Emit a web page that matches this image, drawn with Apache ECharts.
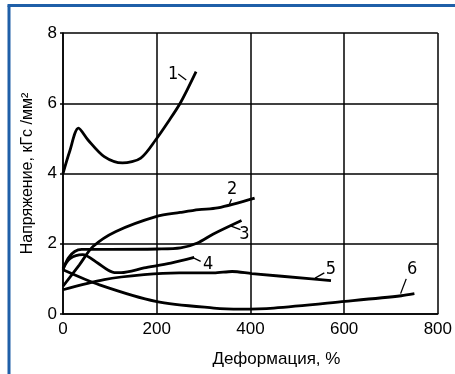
<!DOCTYPE html>
<html>
<head>
<meta charset="utf-8">
<script src="https://cdn.jsdelivr.net/npm/echarts@6/dist/echarts.min.js"></script>
<style>
  html, body { margin: 0; padding: 0; background: #fff; }
  #chart { width: 455px; height: 374px; }
</style>
</head>
<body>
<div id="chart"></div>
<script>
// curves: [deformation %, stress kgf/mm2]
const curve1 = [[0, 4.0], [14, 4.62], [33, 5.29], [53, 4.96], [88, 4.48], [127, 4.30], [166, 4.44], [198, 4.96], [225, 5.48], [251, 6.02], [284, 6.9]];
const curve2 = [[0, 0.79], [35, 1.40], [64, 1.92], [113, 2.35], [200, 2.78], [250, 2.89], [290, 2.97], [330, 3.02], [409, 3.30]];
const curve3 = [[0, 1.26], [11, 1.59], [25, 1.78], [40, 1.84], [100, 1.84], [201, 1.85], [251, 1.88], [287, 2.02], [320, 2.27], [381, 2.66]];
const curve4 = [[0, 1.3], [15, 1.58], [42, 1.69], [74, 1.45], [95, 1.26], [110, 1.18], [124, 1.18], [173, 1.31], [230, 1.45], [280, 1.61]];
const curve5 = [[0, 0.69], [88, 0.98], [173, 1.12], [248, 1.17], [322, 1.17], [361, 1.21], [403, 1.15], [531, 1.0], [572, 0.95]];
const curve6 = [[0, 1.26], [78, 0.83], [198, 0.36], [322, 0.17], [380, 0.14], [450, 0.17], [602, 0.36], [722, 0.52], [750, 0.58]];
const curves = [curve1, curve2, curve3, curve4, curve5, curve6];

// curve number labels and their leader lines, in data coords
const labelNames = ['1', '2', '3', '4', '5', '6'];
const labelPos = [[235, 6.81], [361, 3.54], [387, 2.26], [310, 1.40], [572, 1.26], [745, 1.26]];
const leaders = [
  [[246, 6.83], [263, 6.66]],
  [[359.6, 3.27], [355.4, 3.13]],
  [[378.7, 2.40], [357.5, 2.51]],
  [[293.8, 1.50], [279.6, 1.59]],
  [[557.7, 1.17], [538, 1.02]],
  [[732.5, 1.0], [720.6, 0.58]]
];

const xTicks = [0, 200, 400, 600, 800];
const yTicks = [0, 2, 4, 6, 8];

const chart = echarts.init(document.getElementById('chart'), null, { renderer: 'canvas' });

const font = '"Liberation Sans", Arial, sans-serif';

const series = [];
curves.forEach((c, i) => {
  series.push({
    name: 'curve' + (i + 1),
    type: 'line',
    data: c,
    smooth: 0.3,
    showSymbol: false,
    lineStyle: { color: '#000', width: 2.8 },
    z: 3,
    silent: true
  });
});
leaders.forEach((seg, i) => {
  series.push({
    name: 'leader' + (i + 1),
    type: 'line',
    data: seg,
    showSymbol: false,
    lineStyle: { color: '#000', width: 1.3 },
    z: 3,
    silent: true
  });
});
series.push({
  name: 'labels',
  type: 'scatter',
  data: labelPos.map((p, i) => ({ value: p, name: labelNames[i] })),
  symbolSize: 1,
  itemStyle: { opacity: 1, color: 'rgba(0,0,0,0)' },
  label: {
    show: true,
    position: 'inside',
    formatter: (p) => p.name,
    color: '#000',
    opacity: 1,
    textBorderWidth: 0,
    fontFamily: '"DejaVu Sans Condensed", "Liberation Sans Narrow", sans-serif',
    fontSize: 18
  },
  z: 4,
  silent: true
});

chart.setOption({
  backgroundColor: '#fff',
  animation: false,
  grid: { left: 63, right: 15, top: 33, bottom: 60, show: false },
  xAxis: {
    type: 'value',
    min: xTicks[0],
    max: xTicks[xTicks.length - 1],
    interval: 200,
    name: 'Деформация, %',
    nameLocation: 'middle',
    nameGap: 37,
    nameTextStyle: { color: '#000', fontFamily: font, fontSize: 17, padding: [0, 0, 0, 52] },
    axisLine: { show: true, lineStyle: { color: '#000', width: 1.5 } },
    axisTick: { show: false },
    axisLabel: { color: '#000', fontFamily: font, fontSize: 17, margin: 7 },
    splitLine: { show: true, lineStyle: { color: '#000', width: 1.5 } }
  },
  yAxis: {
    type: 'value',
    min: yTicks[0],
    max: yTicks[yTicks.length - 1],
    interval: 2,
    name: 'Напряжение, кГс /мм²',
    nameLocation: 'middle',
    nameGap: 27,
    nameTextStyle: { color: '#000', fontFamily: font, fontSize: 16 },
    axisLine: { show: true, lineStyle: { color: '#000', width: 1.5 } },
    axisTick: { show: true, length: 3, lineStyle: { color: '#000', width: 1.5 } },
    axisLabel: { color: '#000', fontFamily: font, fontSize: 17, margin: 6 },
    splitLine: { show: true, lineStyle: { color: '#000', width: 1.5 } }
  },
  graphic: [
    { type: 'line', shape: { x1: 9, y1: 5.5, x2: 9, y2: 374 }, style: { stroke: '#1f5fa8', lineWidth: 3 }, z: 10 },
    { type: 'line', shape: { x1: 7.5, y1: 5.5, x2: 455, y2: 5.5 }, style: { stroke: '#1f5fa8', lineWidth: 3 }, z: 10 }
  ],
  series: series
});
</script>
</body>
</html>
